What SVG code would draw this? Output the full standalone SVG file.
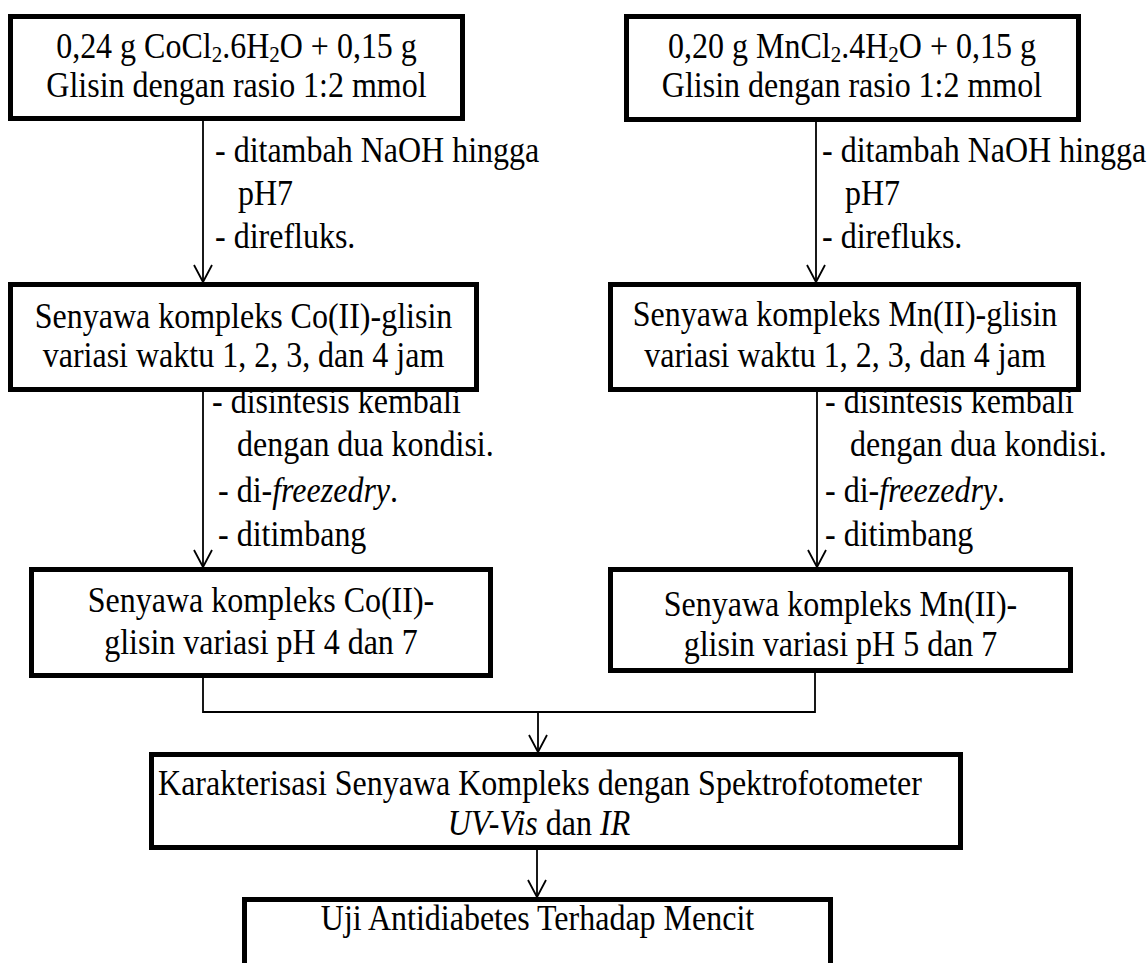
<svg xmlns="http://www.w3.org/2000/svg" width="1148" height="963" viewBox="0 0 1148 963">
<style>
.box{fill:#fff;stroke:#000;stroke-width:5}
.t{font-family:"Liberation Serif","Times New Roman",serif;font-size:32px;fill:#000}
.c{text-anchor:middle}
.i{font-style:italic}
.conn{fill:none;stroke:#000;stroke-width:1.8}
</style>
<defs>
<marker id="arr" markerUnits="userSpaceOnUse" markerWidth="20" markerHeight="20" viewBox="0 0 20 20" refX="18" refY="10" orient="auto">
<path d="M1,1 L18,10 L1,19" fill="none" stroke="#000" stroke-width="1.8"/>
</marker>
</defs>
<rect width="1148" height="963" fill="#fff"/>
<g id="connectors">
<line class="conn" x1="203" y1="121" x2="203" y2="282" marker-end="url(#arr)"/>
<line class="conn" x1="816" y1="122" x2="816" y2="282" marker-end="url(#arr)"/>
<line class="conn" x1="203" y1="392" x2="203" y2="567" marker-end="url(#arr)"/>
<line class="conn" x1="817" y1="392" x2="817" y2="567" marker-end="url(#arr)"/>
<polyline class="conn" points="203,678 203,712 815,712 815,673"/>
<line class="conn" x1="538" y1="712" x2="538" y2="752" marker-end="url(#arr)"/>
<line class="conn" x1="537" y1="850" x2="537" y2="897" marker-end="url(#arr)"/>
</g>
<g id="labels">
<text class="t" transform="translate(215,162) scale(1,1.1)">- ditambah NaOH hingga</text>
<text class="t" transform="translate(238,205) scale(1,1.1)">pH7</text>
<text class="t" transform="translate(215,248) scale(1,1.1)">- direfluks.</text>
<text class="t" transform="translate(822,162) scale(1,1.1)">- ditambah NaOH hingga</text>
<text class="t" transform="translate(845,205) scale(1,1.1)">pH7</text>
<text class="t" transform="translate(822,248) scale(1,1.1)">- direfluks.</text>
<text class="t" transform="translate(212,413) scale(1,1.1)">- disintesis kembali</text>
<text class="t" transform="translate(237,456) scale(1,1.1)">dengan dua kondisi.</text>
<text class="t" transform="translate(218,502) scale(1,1.1)">- di-<tspan class="i">freezedry</tspan>.</text>
<text class="t" transform="translate(218,546) scale(1,1.1)">- ditimbang</text>
<text class="t" transform="translate(825,413) scale(1,1.1)">- disintesis kembali</text>
<text class="t" transform="translate(850,456) scale(1,1.1)">dengan dua kondisi.</text>
<text class="t" transform="translate(825,502) scale(1,1.1)">- di-<tspan class="i">freezedry</tspan>.</text>
<text class="t" transform="translate(825,546) scale(1,1.1)">- ditimbang</text>
</g>
<g id="nodeA">
<rect class="box" x="10.5" y="16.5" width="452" height="102"/>
<text class="t c" transform="translate(236.5,58) scale(1,1.1)">0,24 g CoCl<tspan font-size="21" dy="4">2</tspan><tspan dy="-4">.6H</tspan><tspan font-size="21" dy="4">2</tspan><tspan dy="-4">O + 0,15 g</tspan></text>
<text class="t c" transform="translate(236.5,97) scale(1,1.1)">Glisin dengan rasio 1:2 mmol</text>
</g>
<g id="nodeB">
<rect class="box" x="626.5" y="16.5" width="452" height="103"/>
<text class="t c" transform="translate(852,58) scale(1,1.1)">0,20 g MnCl<tspan font-size="21" dy="4">2</tspan><tspan dy="-4">.4H</tspan><tspan font-size="21" dy="4">2</tspan><tspan dy="-4">O + 0,15 g</tspan></text>
<text class="t c" transform="translate(852,97) scale(1,1.1)">Glisin dengan rasio 1:2 mmol</text>
</g>
<g id="nodeC">
<rect class="box" x="10.5" y="284.5" width="466" height="105"/>
<text class="t c" transform="translate(243.5,328) scale(1,1.1)">Senyawa kompleks Co(II)-glisin</text>
<text class="t c" transform="translate(243.5,367) scale(1,1.1)">variasi waktu 1, 2, 3, dan 4 jam</text>
</g>
<g id="nodeD">
<rect class="box" x="610.5" y="284.5" width="468" height="105"/>
<text class="t c" transform="translate(845,326) scale(1,1.1)">Senyawa kompleks Mn(II)-glisin</text>
<text class="t c" transform="translate(845,367) scale(1,1.1)">variasi waktu 1, 2, 3, dan 4 jam</text>
</g>
<g id="nodeE">
<rect class="box" x="31.5" y="569.5" width="459" height="106"/>
<text class="t c" transform="translate(261,612) scale(1,1.1)">Senyawa kompleks Co(II)-</text>
<text class="t c" transform="translate(261,654) scale(1,1.1)">glisin variasi pH 4 dan 7</text>
</g>
<g id="nodeF">
<rect class="box" x="610.5" y="569.5" width="460" height="101"/>
<text class="t c" transform="translate(840.5,616) scale(1,1.1)">Senyawa kompleks Mn(II)-</text>
<text class="t c" transform="translate(840.5,656) scale(1,1.1)">glisin variasi pH 5 dan 7</text>
</g>
<g id="nodeG">
<rect class="box" x="151.5" y="754.5" width="809" height="93"/>
<text class="t c" transform="translate(540,795) scale(1,1.1)">Karakterisasi Senyawa Kompleks dengan Spektrofotometer</text>
<text class="t c" transform="translate(539,835) scale(1,1.1)"><tspan class="i">UV-Vis</tspan> dan <tspan class="i">IR</tspan></text>
</g>
<g id="nodeH">
<rect class="box" x="244.5" y="899.5" width="586" height="80"/>
<text class="t c" transform="translate(537.5,930) scale(1,1.1)">Uji Antidiabetes Terhadap Mencit</text>
</g>
</svg>
